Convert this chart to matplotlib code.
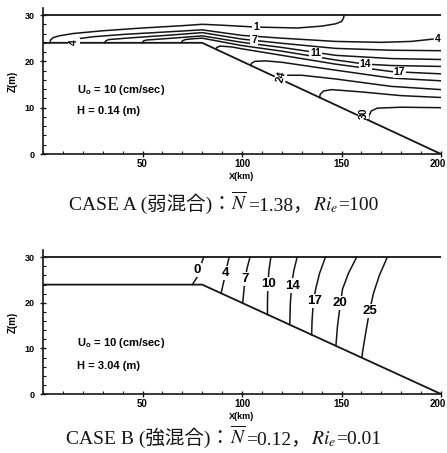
import matplotlib
matplotlib.use("Agg")
import matplotlib.pyplot as plt
from matplotlib.ticker import MultipleLocator

plt.rcParams['mathtext.fontset'] = 'stix'

SANS = 'Liberation Sans'
SERIF = ['Liberation Serif', 'Noto Sans CJK JP']
INK = '#151515'

# bottom profile and sea surface (x in km, z in m)
bottom_x = [0, 80, 200]
bottom_z = [24, 24, 0]
surface_x = [0, 200]
surface_z = [30, 30]

x_ticks = [50, 100, 150, 200]
z_ticks = [0, 10, 20, 30]

# CASE A : contour lines, (x, z) pairs
a_c1 = [(3.5, 23.9), (3.8, 24.6), (5, 25.1), (8, 25.5), (15, 26.0), (30, 26.6), (50, 27.2),
        (70, 27.7), (80, 28.0), (90, 27.8), (107, 27.4), (128, 27.2), (140, 27.6),
        (147, 28.1), (150, 28.6), (151, 29.3), (151.3, 30.0)]
a_c2 = [(16, 24.0), (16.5, 24.5), (18, 24.9), (25, 25.3), (40, 25.8), (60, 26.3), (80, 26.8),
        (90, 26.2), (100, 25.6), (120, 25.0), (147, 24.3), (170, 24.1), (185, 24.3), (196, 24.8)]
a_c3 = [(31, 24.0), (31.5, 24.4), (33, 24.7), (45, 25.1), (65, 25.7), (80, 26.2), (90, 25.5),
        (100, 24.8), (120, 23.9), (147, 22.8), (175, 22.4), (200, 22.3)]
a_c4 = [(50, 24.0), (50.5, 24.4), (52, 24.6), (65, 25.0), (80, 25.5), (90, 24.8), (100, 24.1),
        (120, 23.0), (147, 21.3), (175, 20.6), (200, 20.4)]
a_c5 = [(69.5, 24.0), (70, 24.4), (71.5, 24.7), (76, 24.9), (80, 25.0), (90, 24.2),
        (100, 23.4), (120, 22.2), (147, 20.3), (162, 19.4), (175, 19.1), (200, 18.9)]
a_c6 = [(87, 22.6), (87.3, 23.0), (89, 23.3), (95, 23.1), (100, 22.7), (120, 21.3),
        (147, 19.4), (175, 17.8), (200, 17.3)]
a_c7 = [(104.5, 19.1), (104.8, 19.6), (106.5, 20.0), (112, 20.1), (120, 19.8), (147, 18.1),
        (175, 16.4), (200, 15.8)]
a_c8 = [(120, 16.0), (120.3, 16.6), (122, 17.0), (130, 17.0), (147, 16.2), (175, 14.6),
        (200, 13.9)]
a_c9 = [(139, 12.2), (139.3, 12.9), (141, 13.6), (145, 13.9), (160, 13.4), (180, 12.6),
        (200, 12.2)]
a_c10 = [(163.5, 7.3), (163.8, 8.3), (165, 9.3), (168, 9.9), (180, 10.1), (200, 10.0)]

a_label_text = ['1', '4', '4', '7', '11', '14', '17', '24', '30']
a_label_xz = [(107, 27.4), (15.5, 24.2), (198.5, 24.9), (106, 24.5), (137, 21.7),
              (162, 19.4), (179, 17.6), (119.5, 16.8), (161, 8.9)]

# CASE B : near-vertical contour lines
b_c0 = [(80.7, 30), (79.5, 28.5), (78, 26), (76.5, 25), (75, 24)]
b_c4 = [(93.5, 30), (92.2, 27.5), (91, 25), (89.5, 22.1)]
b_c7 = [(104, 30), (102.5, 27.5), (101.5, 25), (100.8, 22), (100.3, 19.9)]
b_c10 = [(114.5, 30), (113.5, 27), (113, 24), (112.8, 20), (112.8, 17.4)]
b_c14 = [(127.7, 30), (126, 27), (125, 24), (124.3, 20), (124, 15.2)]
b_c17 = [(141.9, 30), (139, 26.5), (137, 23), (135.8, 20), (135.2, 16), (135, 13)]
b_c20 = [(157.6, 30), (153.5, 26.5), (150.5, 23), (149.2, 19), (148, 15), (147.2, 10.6)]
b_c25 = [(173, 30), (169, 26), (166, 22), (164, 18), (162, 13), (160.5, 9), (160.3, 8.1)]

b_label_text = ['0', '4', '7', '10', '14', '17', '20', '25']
b_label_xz = [(77.3, 27.2), (91.5, 26.5), (101.6, 25.2), (113.3, 24.2), (125.3, 23.8),
              (136.3, 20.5), (149.4, 19.9), (164.2, 18.3)]

a_info = ['U$_\\mathdefault{o}$ = 10 (cm/sec)', 'H = 0.14 (m)']
b_info = ['U$_\\mathdefault{o}$ = 10 (cm/sec)', 'H = 3.04 (m)']

a_caption = [('CASE A (弱混合)：', False), (r'$\overline{N}$', True), ('=1.38，', False),
             (r'$Ri_e$', True), ('=100', False)]
b_caption = [('CASE B (強混合)：', False), (r'$\overline{N}$', True), ('=0.12，', False),
             (r'$Ri_e$', True), ('=0.01', False)]


def setup(ax):
    ax.set_xlim(0, 200)
    ax.set_ylim(0, 31.5)
    ax.spines['top'].set_visible(False)
    ax.spines['right'].set_visible(False)
    for s in ('left', 'bottom'):
        ax.spines[s].set_linewidth(1.2)
        ax.spines[s].set_color(INK)
    # last x label ("200") sits at the right edge of the page, drawn separately below
    ax.set_xticks(x_ticks)
    ax.set_xticklabels([str(v) for v in x_ticks[:-1]] + [''])
    ax.xaxis.set_minor_locator(MultipleLocator(10))
    ax.set_yticks(z_ticks)
    ax.yaxis.set_minor_locator(MultipleLocator(2))
    ax.tick_params(which='major', direction='inout', length=5, width=1, color=INK)
    ax.tick_params(which='minor', direction='in', length=2.5, width=0.8, color=INK)
    ax.tick_params(axis='x', pad=1)
    ax.tick_params(axis='y', pad=3.5)
    for lab in ax.get_xticklabels():
        lab.set_fontsize(7)
    for lab in ax.get_yticklabels():
        lab.set_fontsize(6.5)
    for lab in ax.get_xticklabels() + ax.get_yticklabels():
        lab.set_fontweight('bold')
        lab.set_family(SANS)
    ax.annotate(str(x_ticks[-1]), xy=(x_ticks[-1], 0), xytext=(-2.5, -3.5),
                textcoords='offset points', ha='center', va='top', fontsize=7,
                fontweight='bold', family=SANS, annotation_clip=False)
    ax.set_xlabel('X(km)', fontsize=6.5, fontweight='bold', family=SANS, labelpad=2)
    ax.set_ylabel('Z(m)', fontsize=7, fontweight='bold', family=SANS, labelpad=5)
    ax.plot(surface_x, surface_z, color=INK, lw=1.3, zorder=2)
    ax.plot(bottom_x, bottom_z, color=INK, lw=1.3, zorder=2)


def draw_lines(ax, lines):
    for ln in lines:
        ax.plot([p[0] for p in ln], [p[1] for p in ln], color=INK, lw=1.1, zorder=2)


def draw_labels(ax, texts, pos, size, rot=None):
    for i, (t, (x, z)) in enumerate(zip(texts, pos)):
        r = 0 if rot is None else rot.get(i, 0)
        ax.text(x, z, t, ha='center', va='center', fontsize=size, fontweight='bold',
                family=SANS, rotation=r, zorder=4,
                bbox=dict(boxstyle='square,pad=0.08', fc='white', ec='none'))


def draw_info(ax, lines, z1, z2):
    ax.text(17, z1, lines[0], fontsize=8, fontweight='bold', family=SANS, va='center')
    ax.text(17, z2, lines[1], fontsize=8, fontweight='bold', family=SANS, va='center')


def caption(fig, pieces, y, size):
    r = fig.canvas.get_renderer()
    W = fig.get_figwidth() * fig.dpi
    texts = []
    for s, math in pieces:
        if math:
            t = fig.text(0, y, s, fontsize=size, va='baseline', color=INK)
        else:
            t = fig.text(0, y, s, fontsize=size, va='baseline', family=SERIF, color=INK)
        texts.append(t)
    widths = [t.get_window_extent(r).width for t in texts]
    x = (W - sum(widths)) / 2
    for t, w in zip(texts, widths):
        t.set_x(x / W)
        x += w


fig = plt.figure(figsize=(4.47, 4.53), dpi=100)
axA = fig.add_axes([43 / 447, 0.660, 398 / 447, 0.3222])
axB = fig.add_axes([43 / 447, 0.1302, 398 / 447, 0.317])

setup(axA)
draw_lines(axA, [a_c1, a_c2, a_c3, a_c4, a_c5, a_c6, a_c7, a_c8, a_c9, a_c10])
draw_labels(axA, a_label_text, a_label_xz, 7.5, rot={1: 90, 7: 75, 8: 90})
draw_info(axA, a_info, 13.9, 9.2)

setup(axB)
draw_lines(axB, [b_c0, b_c4, b_c7, b_c10, b_c14, b_c17, b_c20, b_c25])
draw_labels(axB, b_label_text, b_label_xz, 9.5)
draw_info(axB, b_info, 11.1, 6.2)

caption(fig, a_caption, 1 - 210 / 453, 14)
caption(fig, b_caption, 1 - 444 / 453, 14)

fig.savefig('out.png', dpi=100)
